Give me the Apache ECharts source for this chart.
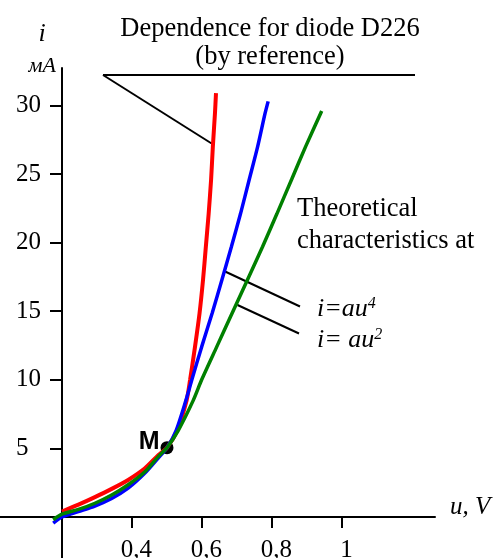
<!DOCTYPE html>
<html>
<head>
<meta charset="utf-8">
<script src="https://cdn.jsdelivr.net/npm/echarts/dist/echarts.min.js"></script>
<style>
  html, body { margin: 0; padding: 0; background: #fff; }
  #chart { width: 499px; height: 558px; }
</style>
</head>
<body>
<div id="chart"></div>
<script>
// reference curve "Dependence for diode D226"
const refU = [0.2, 0.247, 0.294, 0.342, 0.389, 0.437, 0.475, 0.5, 0.529, 0.556, 0.566, 0.58, 0.593, 0.603, 0.611, 0.619, 0.626, 0.631, 0.637, 0.64];
const refI = [0.4, 0.9, 1.45, 2.05, 2.7, 3.55, 4.5, 5.05, 6.3, 8.5, 10.0, 12.4, 14.85, 17.3, 19.7, 22.1, 24.6, 27.0, 29.4, 30.9];

// theoretical i = a u^4
const pow4U = [0.175, 0.2, 0.247, 0.294, 0.342, 0.389, 0.437, 0.475, 0.5, 0.526, 0.554, 0.571, 0.599, 0.629, 0.657, 0.684, 0.71, 0.735, 0.759, 0.78, 0.789];
const pow4I = [-0.45, 0.0, 0.4, 0.8, 1.35, 2.1, 3.2, 4.3, 5.05, 6.3, 8.5, 10.0, 12.4, 14.85, 17.3, 19.7, 22.1, 24.6, 27.0, 29.4, 30.3];

// theoretical i = a u^2
const pow2U = [0.175, 0.2, 0.247, 0.294, 0.342, 0.389, 0.437, 0.475, 0.5, 0.532, 0.575, 0.599, 0.642, 0.686, 0.73, 0.773, 0.814, 0.856, 0.896, 0.942];
const pow2I = [-0.2, 0.2, 0.55, 1.0, 1.6, 2.35, 3.3, 4.4, 5.05, 6.3, 8.5, 10.0, 12.4, 14.85, 17.3, 19.7, 22.1, 24.6, 27.0, 29.6];

// operating point M
const pointM = [0.5, 5.05];

const xTicks = [0.4, 0.6, 0.8, 1];
const yTicks = [5, 10, 15, 20, 25, 30];

const serif = "'Liberation Serif', 'Times New Roman', serif";

function pairs(us, is) {
  return us.map((u, k) => [u, is[k]]);
}

const chart = echarts.init(document.getElementById('chart'));

const option = {
  animation: false,
  grid: { left: 0, right: 64, top: 68, bottom: 0, containLabel: false, outerBoundsMode: 'none' },
  xAxis: {
    type: 'value',
    min: 0.0229,
    max: 1.2657,
    name: 'u, V',
    nameLocation: 'end',
    nameGap: 15,
    nameTextStyle: {
      fontFamily: serif, fontStyle: 'italic', fontSize: 25, color: '#000',
      verticalAlign: 'bottom', lineHeight: 19
    },
    axisLine: { onZero: true, lineStyle: { color: '#000', width: 2 } },
    axisTick: { customValues: xTicks, length: 11, lineStyle: { color: '#000', width: 2 } },
    axisLabel: {
      customValues: xTicks,
      margin: -20,
      padding: [0, 0, 0, 9],
      fontFamily: serif, fontSize: 25, color: '#000',
      formatter: v => String(v).replace('.', ',')
    },
    splitLine: { show: false }
  },
  yAxis: {
    type: 'value',
    min: -2.99,
    max: 32.73,
    offset: -62,
    axisLine: { show: true, onZero: false, lineStyle: { color: '#000', width: 2 } },
    axisTick: { show: true, customValues: yTicks, length: 12, lineStyle: { color: '#000', width: 2 } },
    axisLabel: {
      customValues: yTicks,
      margin: 46,
      align: 'left',
      fontFamily: serif, fontSize: 25, color: '#000'
    },
    splitLine: { show: false }
  },
  series: [
    {
      name: 'reference',
      type: 'line',
      data: pairs(refU, refI),
      smooth: 0.25,
      showSymbol: false,
      lineStyle: { color: '#ff0000', width: 4 }
    },
    {
      name: 'i=au4',
      type: 'line',
      data: pairs(pow4U, pow4I),
      smooth: 0.25,
      showSymbol: false,
      lineStyle: { color: '#0000ff', width: 3.5 }
    },
    {
      name: 'i=au2',
      type: 'line',
      data: pairs(pow2U, pow2I),
      smooth: 0.25,
      showSymbol: false,
      lineStyle: { color: '#008000', width: 3.5 }
    },
    {
      name: 'M',
      type: 'scatter',
      data: [pointM],
      symbolSize: 13,
      itemStyle: { color: '#000', opacity: 1 },
      label: {
        show: true,
        formatter: 'M',
        position: 'left',
        distance: 1,
        offset: [0, -6],
        fontFamily: "'Liberation Sans', Arial, sans-serif",
        fontWeight: 'bold',
        fontSize: 25,
        color: '#000'
      }
    }
  ],
  graphic: [
    // axis unit labels
    { type: 'text', style: { text: 'i', x: 42, y: 34, textAlign: 'center', textVerticalAlign: 'middle',
      font: 'italic 26px ' + serif, fill: '#000' } },
    { type: 'text', style: { text: 'мA', x: 56, y: 66, textAlign: 'right', textVerticalAlign: 'middle',
      font: 'italic 22px ' + serif, fill: '#000' } },
    // title callout
    { type: 'text', style: { text: 'Dependence for diode D226', x: 270, y: 29.5, textAlign: 'center',
      textVerticalAlign: 'middle', font: '26.5px ' + serif, fill: '#000' } },
    { type: 'text', style: { text: '(by reference)', x: 270, y: 57.5, textAlign: 'center',
      textVerticalAlign: 'middle', font: '26.5px ' + serif, fill: '#000' } },
    { type: 'line', shape: { x1: 103, y1: 75, x2: 415, y2: 75 }, style: { stroke: '#000', lineWidth: 2 } },
    { type: 'line', shape: { x1: 103, y1: 75, x2: 214, y2: 145 }, style: { stroke: '#000', lineWidth: 2 } },
    // theoretical callouts
    { type: 'text', style: { text: 'Theoretical', x: 297, y: 209.5, textAlign: 'left',
      textVerticalAlign: 'middle', font: '26.5px ' + serif, fill: '#000' } },
    { type: 'text', style: { text: 'characteristics at', x: 297, y: 241, textAlign: 'left',
      textVerticalAlign: 'middle', font: '26.5px ' + serif, fill: '#000' } },
    { type: 'line', shape: { x1: 224, y1: 271, x2: 300, y2: 306.5 }, style: { stroke: '#000', lineWidth: 2 } },
    { type: 'line', shape: { x1: 237.5, y1: 305, x2: 299, y2: 333.5 }, style: { stroke: '#000', lineWidth: 2 } },
    { type: 'text', style: { text: '{m|i=au}{s|4}', x: 317, y: 309, textAlign: 'left', textVerticalAlign: 'middle',
      rich: {
        m: { fontFamily: serif, fontStyle: 'italic', fontSize: 26, fill: '#000' },
        s: { fontFamily: serif, fontStyle: 'italic', fontSize: 16, fill: '#000', verticalAlign: 'top' }
      } } },
    { type: 'text', style: { text: '{m|i= au}{s|2}', x: 317, y: 340, textAlign: 'left', textVerticalAlign: 'middle',
      rich: {
        m: { fontFamily: serif, fontStyle: 'italic', fontSize: 26, fill: '#000' },
        s: { fontFamily: serif, fontStyle: 'italic', fontSize: 16, fill: '#000', verticalAlign: 'top' }
      } } }
  ]
};

chart.setOption(option);
</script>
</body>
</html>
